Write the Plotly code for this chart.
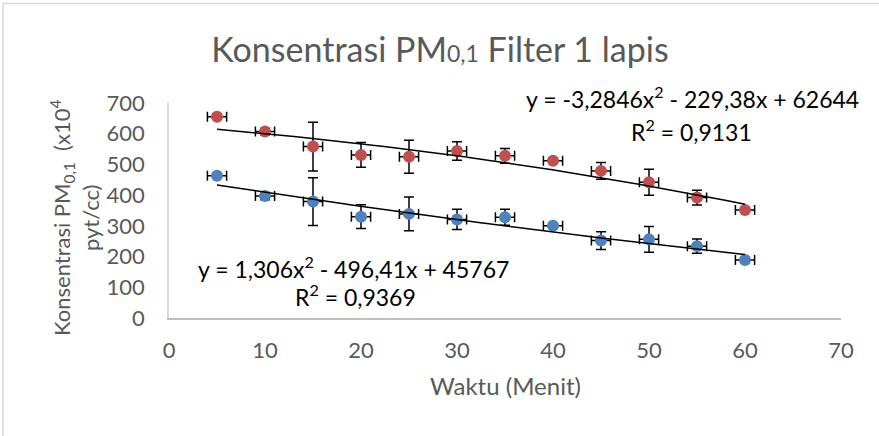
import numpy as np
import plotly.graph_objects as go

# ---- data ----
waktu = [5, 10, 15, 20, 25, 30, 35, 40, 45, 50, 55, 60]
red_vals = [655, 607, 558, 531, 525, 544, 528, 512, 479, 442, 392, 352]
red_err = [8, 10, 79, 40, 54, 30, 24, 8, 27, 42, 24, 8]
blue_vals = [463, 397, 379, 330, 339, 321, 328, 300, 252, 256, 234, 189]
blue_err = [8, 12, 78, 39, 55, 33, 26, 8, 29, 42, 23, 8]
x_err = [1] * 12

red_coef = [-3.2846, -229.38, 62644]
blue_coef = [1.306, -496.41, 45767]
coef_scale = 100
red_r2 = "0,9131"
blue_r2 = "0,9369"

x_ticks = [0, 10, 20, 30, 40, 50, 60, 70]
y_ticks = [0, 100, 200, 300, 400, 500, 600, 700]

RED = "#C0504D"
BLUE = "#4F81BD"
FONT = "Lato"
GRAY = "#595959"

fig = go.Figure()

def add_series(vals, err, color):
    fig.add_trace(go.Scatter(
        x=waktu, y=vals, mode="markers",
        marker=dict(color=color, size=12, line=dict(width=0)),
        error_y=dict(type="data", array=err, visible=True, color="black",
                     thickness=1.5, width=5),
        error_x=dict(type="data", array=x_err, visible=True, color="black",
                     thickness=1.5, width=5),
        showlegend=False, hoverinfo="x+y"))

add_series(red_vals, red_err, RED)
add_series(blue_vals, blue_err, BLUE)

xt = np.linspace(waktu[0], waktu[-1], 200)
for coef in (red_coef, blue_coef):
    yt = np.polyval(coef, xt) / coef_scale
    fig.add_trace(go.Scatter(x=xt, y=yt, mode="lines",
                             line=dict(color="black", width=1.5),
                             showlegend=False, hoverinfo="skip"))

def fmt_eq(coef):
    a, b, c = coef
    def num(v):
        return ("%g" % abs(v)).replace(".", ",")
    sa = ("-" if a < 0 else "") + num(a)
    sb = ("- " if b < 0 else "+ ") + num(b)
    sc = ("- " if c < 0 else "+ ") + num(c)
    return f"y = {sa}x<sup>2</sup> {sb}x {sc}"

# plot area in pixels: x 169..841, y 103..318
L, R, T, B = 169, 841, 103, 318
W, H = 879, 436

def px(x):
    return (x - L) / (R - L)

def py(y):
    return (B - y) / (B - T)

annots = [
    dict(text=fmt_eq(red_coef), x=px(692), y=py(98)),
    dict(text=f"R<sup>2</sup> = {red_r2}", x=px(691), y=py(130)),
    dict(text=fmt_eq(blue_coef), x=px(353), y=py(267)),
    dict(text=f"R<sup>2</sup> = {blue_r2}", x=px(355), y=py(295)),
]
for a in annots:
    fig.add_annotation(xref="paper", yref="paper", x=a["x"], y=a["y"],
                       text=a["text"], showarrow=False, xanchor="center",
                       yanchor="middle", font=dict(family=FONT, size=23, color="black"))

# axis titles
fig.add_annotation(xref="paper", yref="paper", x=px(505), y=py(385),
                   text="Waktu (Menit)", showarrow=False, xanchor="center",
                   yanchor="middle", font=dict(family=FONT, size=24, color=GRAY))
fig.add_annotation(xref="paper", yref="paper", x=px(75), y=py(218),
                   text="Konsentrasi PM<sub>0,1</sub>  (x10<sup>4</sup><br>pyt/cc)",
                   textangle=-90, showarrow=False, xanchor="center",
                   yanchor="middle", align="center",
                   font=dict(family=FONT, size=22, color=GRAY))

# chart border
fig.add_shape(type="rect", xref="paper", yref="paper",
              x0=px(3), x1=px(W + 5), y0=py(H + 5), y1=py(3.5),
              line=dict(color="#D9D9D9", width=1.5), fillcolor="rgba(0,0,0,0)",
              layer="below")

fig.update_layout(
    width=W, height=H,
    margin=dict(l=L, r=W - R, t=T, b=H - B, pad=0),
    paper_bgcolor="white", plot_bgcolor="white",
    title=dict(text="Konsentrasi PM<span style='font-size:23px'>0,1</span> Filter 1 lapis",
               xref="container", yref="container", x=440 / W, y=1 - 50 / H,
               xanchor="center", yanchor="middle",
               font=dict(family=FONT, size=34, color=GRAY)),
    xaxis=dict(range=[0, 70], tickvals=x_ticks, ticktext=[str(v) for v in x_ticks],
               showgrid=False, zeroline=False, showline=True, linecolor="#BFBFBF",
               linewidth=1.5, ticks="", ticklabelstandoff=12,
               tickfont=dict(family=FONT, size=22, color=GRAY), fixedrange=True),
    yaxis=dict(range=[0, 700], tickvals=y_ticks, ticktext=[str(v) for v in y_ticks],
               showgrid=False, zeroline=False, showline=True, linecolor="#D9D9D9",
               linewidth=1.5, ticks="", ticklabelstandoff=18,
               tickfont=dict(family=FONT, size=22, color=GRAY), fixedrange=True),
)

fig.write_html("out.html")
